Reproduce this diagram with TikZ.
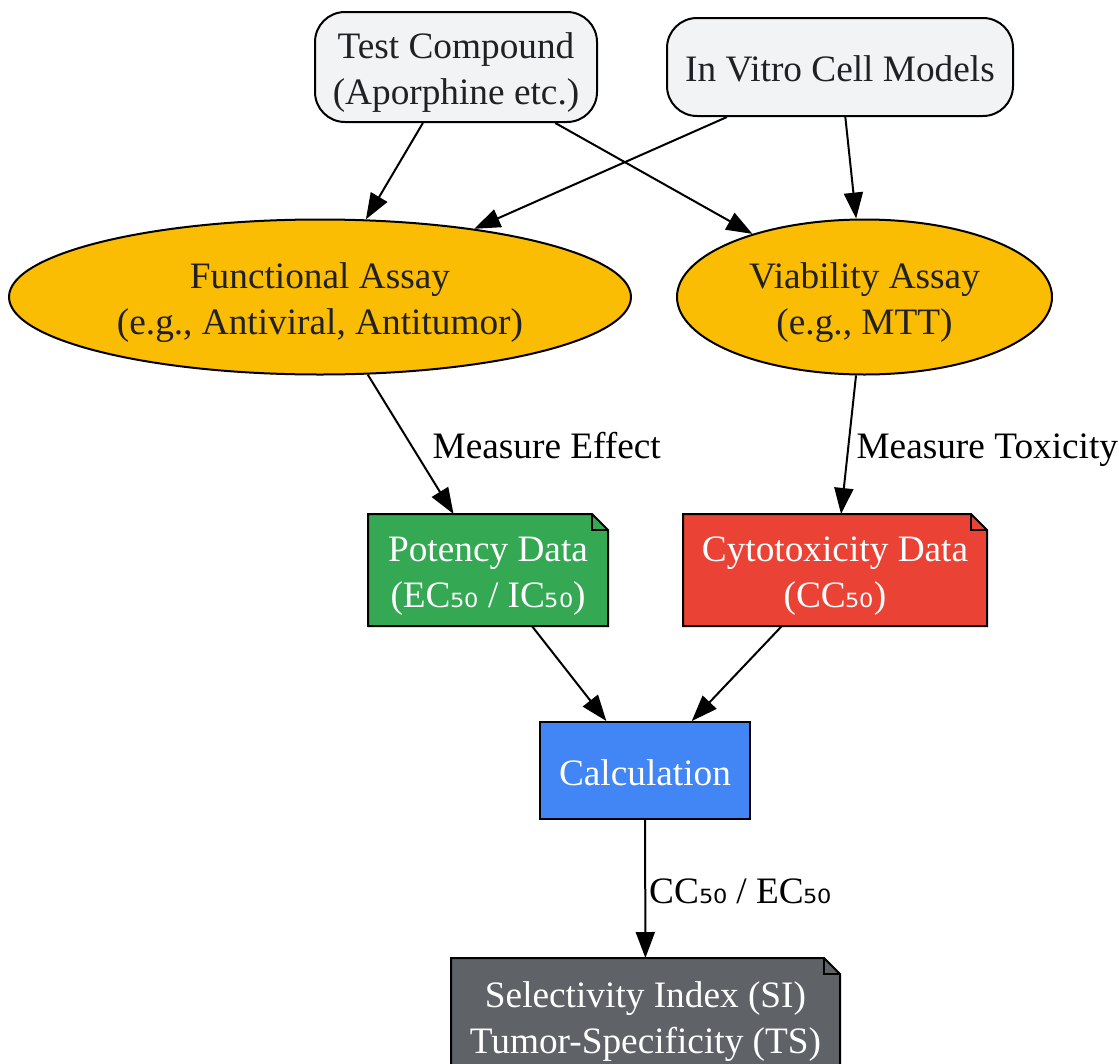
\documentclass[tikz,border=0pt]{standalone}
\usepackage{fontspec}
\setmainfont{Liberation Serif}
\newfontfamily\dvs{DejaVu Sans}
\usetikzlibrary{arrows.meta,shapes.geometric,backgrounds}
\definecolor{lightg}{HTML}{F1F3F4}
\definecolor{darktext}{HTML}{202124}
\definecolor{gyellow}{HTML}{FBBC04}
\definecolor{ggreen}{HTML}{34A853}
\definecolor{gred}{HTML}{EA4335}
\definecolor{gblue}{HTML}{4285F4}
\definecolor{ggray}{HTML}{5F6368}
\newcommand\fifty{{\dvs\fontsize{35}{46}\selectfont ₅₀}}
\newcommand\tb{\rule{0pt}{39pt}}
\newcommand\bb{\rule[-10pt]{0pt}{10pt}}
\newcommand\notebg[2]{%
  \filldraw[fill=#2, draw=black, line width=2pt, line join=miter]
    (#1.north west) -- ([xshift=-16pt]#1.north east) -- ([yshift=-16pt]#1.north east)
    -- (#1.south east) -- (#1.south west) -- cycle;
  \draw[line width=2pt]
    ([xshift=-16pt]#1.north east) -- ([shift={(-16pt,-16pt)}]#1.north east)
    -- ([yshift=-16pt]#1.north east);}
\tikzset{
  startbox/.style={draw=black, line width=2pt, fill=lightg, text=darktext,
    rounded corners=30pt, align=center, inner sep=0pt},
  assay/.style={ellipse, draw=black, line width=2pt, fill=gyellow, text=darktext,
    align=center, inner sep=0pt},
  notebox/.style={rectangle, text=white, align=center, inner sep=0pt, outer sep=1pt},
  calcbox/.style={rectangle, draw=black, line width=2pt, fill=gblue, text=white,
    align=center, inner sep=0pt},
  conn/.style={line width=2pt, -{Triangle[length=26pt,width=19pt]}},
  elabel/.style={anchor=base west, inner sep=0pt, text=black, yshift=-14pt}
}
\begin{document}
\begin{tikzpicture}[x=1pt, y=1pt, font=\fontsize{37.3}{46}\selectfont]
\useasboundingbox (0,0) rectangle (1119,-1063);

\node[startbox, minimum width=282, minimum height=110] (tc) at (456,-67) {\tb Test Compound\\(Aporphine etc.)\bb};
\node[startbox, minimum width=346, minimum height=98] (iv) at (840,-67) {\tb In Vitro Cell Models\bb};
\node[assay, minimum width=622, minimum height=155] (fa) at (320,-297) {\tb Functional Assay\\(e.g., Antiviral, Antitumor)\bb};
\node[assay, minimum width=375, minimum height=155] (va) at (864.5,-297) {\tb Viability Assay\\(e.g., MTT)\bb};
\node[notebox, minimum width=238, minimum height=110] (pd) at (488,-570) {\tb Potency Data\\(EC\fifty{} / IC\fifty)\bb};
\node[notebox, minimum width=302, minimum height=110] (cy) at (835,-570) {\tb Cytotoxicity Data\\(CC\fifty)\bb};
\node[calcbox, minimum width=210, minimum height=97] (ca) at (645,-770.5) {\tb Calculation\bb};
\node[notebox, minimum width=387, minimum height=114] (si) at (645.5,-1016) {\tb Selectivity Index (SI)\\Tumor-Specificity (TS)\bb};

\begin{pgfonlayer}{background}
\fill[white] (0,0) rectangle (1119,-1063);
\notebg{pd}{ggreen}
\notebg{cy}{gred}
\notebg{si}{ggray}
\end{pgfonlayer}

\draw[conn] (tc) -- (fa);
\draw[conn] (tc) -- (va);
\draw[conn] (iv) -- (fa);
\draw[conn] (iv) -- (va);
\draw[conn] (fa) -- node[elabel, xshift=21pt] {Measure Effect} (pd);
\draw[conn] (va) -- node[elabel, xshift=7pt] {Measure Toxicity} (cy);
\draw[conn] (pd) -- (ca);
\draw[conn] (cy) -- (ca);
\draw[conn] (ca) -- node[elabel, xshift=3pt] {CC\fifty{} / EC\fifty} (si);
\end{tikzpicture}
\end{document}
